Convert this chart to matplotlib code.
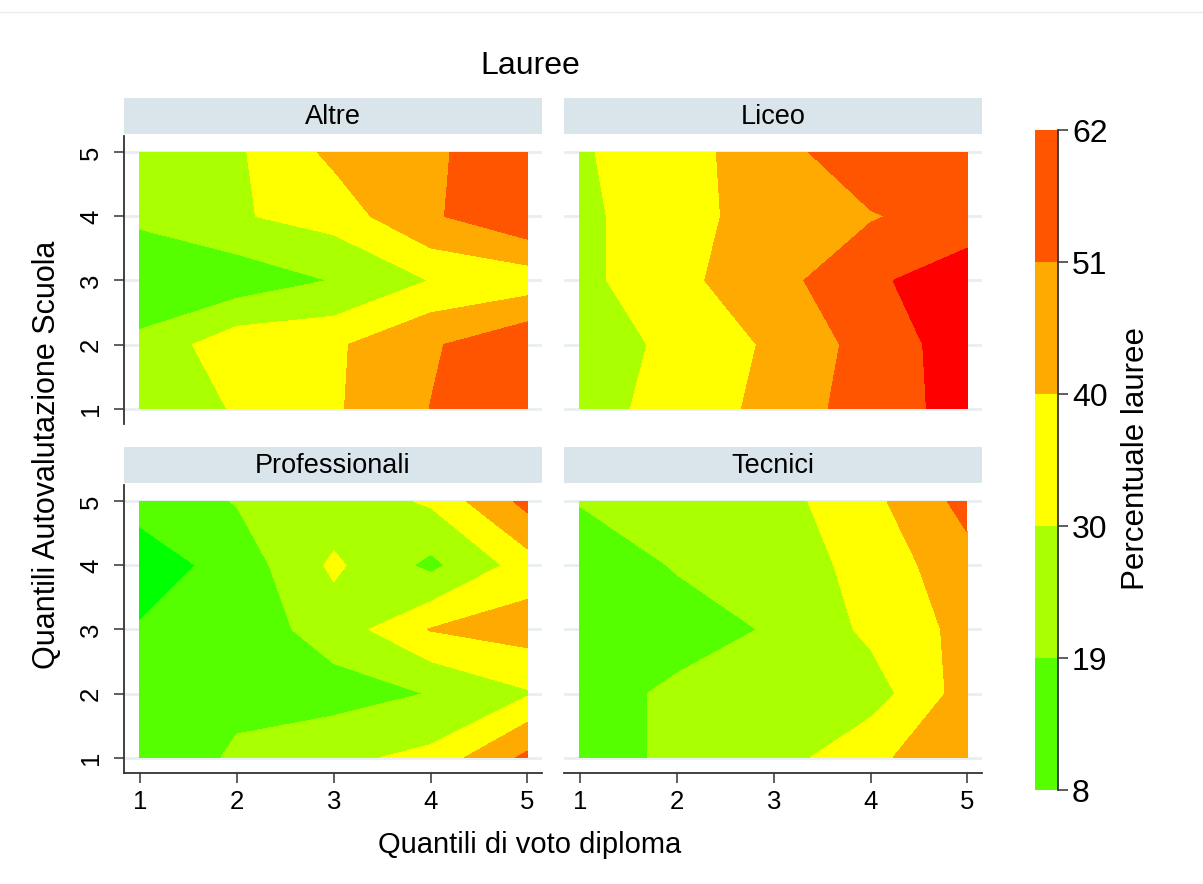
import matplotlib
matplotlib.use('Agg')
from matplotlib import pyplot as plt
from matplotlib.colors import ListedColormap, BoundaryNorm
from matplotlib.lines import Line2D
import matplotlib.cm as cm
import numpy as np

# Quantili (asse x: voto diploma, asse y: autovalutazione scuola)
quant_voto = [1, 2, 3, 4, 5]
quant_auto = [1, 2, 3, 4, 5]

# percentuale lauree, una riga per quantile di autovalutazione (1..5)
altre = [[25.0, 30.6, 38.6, 51.2, 58.0],
         [21.5, 37.2, 38.3, 49.5, 60.6],
         [11.0, 12.0, 19.5, 30.3, 33.5],
         [21.0, 29.0, 34.2, 49.4, 60.6],
         [24.0, 28.6, 42.3, 49.0, 59.0]]

liceo = [[22.0, 37.4, 41.3, 58.6, 64.5],
         [20.0, 34.5, 41.2, 55.6, 67.5],
         [27.2, 37.3, 46.7, 60.5, 67.0],
         [27.8, 35.9, 45.0, 50.0, 57.1],
         [28.9, 36.0, 45.8, 60.2, 59.0]]

professionali = [[12.0, 20.4, 27.5, 32.7, 53.5],
                 [13.0, 16.6, 14.5, 19.4, 29.0],
                 [9.0, 12.3, 24.1, 40.5, 44.4],
                 [2.0, 12.5, 32.0, 16.3, 35.0],
                 [12.0, 19.6, 23.2, 31.5, 54.4]]

tecnici = [[14.0, 21.2, 25.0, 38.2, 46.0],
           [14.0, 21.2, 22.0, 25.1, 44.5],
           [12.0, 14.3, 20.0, 32.2, 43.0],
           [12.0, 19.8, 24.6, 33.3, 47.0],
           [19.6, 24.0, 26.2, 37.0, 54.7]]

tipi = ['Altre', 'Liceo', 'Professionali', 'Tecnici']
livelli = [8, 19, 30, 40, 51, 62]
colori = ['#55ff00', '#aaff00', '#ffff00', '#ffaa00', '#ff5500']

W, H = 1203, 884
plt.rcParams['font.family'] = ['Liberation Sans', 'DejaVu Sans']

fig = plt.figure(figsize=(W / 100, H / 100), dpi=100)


def px_axes(left, top, right, bottom):
    return fig.add_axes([left / W, 1 - bottom / H, (right - left) / W, (bottom - top) / H])


cmap = ListedColormap(colori)
cmap.set_under('#00ff00')
cmap.set_over('#ff0000')
norm = BoundaryNorm(livelli, cmap.N)

# posizioni dei pannelli in pixel: (sx, alto, dx, basso)
pannelli = [(124, 136, 542, 424), (564, 136, 982, 424),
            (124, 485, 542, 773), (564, 485, 982, 773)]
dati = [altre, liceo, professionali, tecnici]

X, Y = np.meshgrid(quant_voto, quant_auto)
for i, (nome, box, z) in enumerate(zip(tipi, pannelli, dati)):
    sx, alto, dx, basso = box
    # striscia del titolo
    strip = px_axes(sx, alto - 38, dx, alto - 2)
    strip.set_facecolor('#d9e5eb')
    strip.set_xticks([])
    strip.set_yticks([])
    for s in strip.spines.values():
        s.set_visible(False)
    strip.text(0.5, 0.47, nome, ha='center', va='center', fontsize=19.5,
               transform=strip.transAxes)

    ax = px_axes(sx, alto, dx, basso)
    ax.contourf(X, Y, np.array(z), levels=livelli, cmap=cmap, norm=norm,
                extend='both', antialiased=False)
    ax.set_xlim(0.835, 5.15)
    ax.set_ylim(0.76, 5.255)
    ax.set_axisbelow(True)
    ax.yaxis.grid(True, color='#e8eef1', lw=2)
    ax.set_yticks(quant_auto)
    ax.set_xticks(quant_voto)
    for s in ['top', 'right']:
        ax.spines[s].set_visible(False)
    sinistra = (i % 2 == 0)
    sotto = (i >= 2)
    ax.spines['left'].set_visible(sinistra)
    ax.spines['bottom'].set_visible(sotto)
    for s in ['left', 'bottom']:
        ax.spines[s].set_color('#333333')
        ax.spines[s].set_linewidth(1.3)
    ax.tick_params(axis='y', length=7 if sinistra else 0, width=1.1,
                   color='#333333', labelsize=18.5, pad=8,
                   labelleft=sinistra, labelrotation=90)
    ax.tick_params(axis='x', length=7 if sotto else 0, width=1.1,
                   color='#333333', labelsize=18.5, pad=5,
                   labelbottom=sotto)
    for t in ax.get_yticklabels():
        t.set_va('center')

# barra dei colori
cax = px_axes(1035, 130, 1058, 790)
sm = cm.ScalarMappable(norm=norm, cmap=cmap)
cbar = fig.colorbar(sm, cax=cax, ticks=livelli, extend='neither')
cbar.outline.set_visible(False)
cax.plot([1, 1], [0, 1], transform=cax.transAxes, color='#333333',
         lw=1.3, clip_on=False)
cax.tick_params(length=7, width=1.1, color='#333333', labelsize=23, pad=3)

fig.text(1136 / W, 1 - 459 / H, 'Percentuale lauree', rotation=90,
         ha='center', va='center', fontsize=22.5)
fig.text(530 / W, 1 - 66 / H, 'Lauree', ha='center', va='center', fontsize=23)
fig.text(530 / W, 1 - 845 / H, 'Quantili di voto diploma', ha='center',
         va='center', fontsize=21)
fig.text(47 / W, 1 - 455 / H, 'Quantili Autovalutazione Scuola', rotation=90,
         ha='center', va='center', fontsize=22)

fig.add_artist(Line2D([0, 1], [1 - 12 / H, 1 - 12 / H], color='#e6ecef', lw=1))

fig.savefig('out.png', dpi=100)
